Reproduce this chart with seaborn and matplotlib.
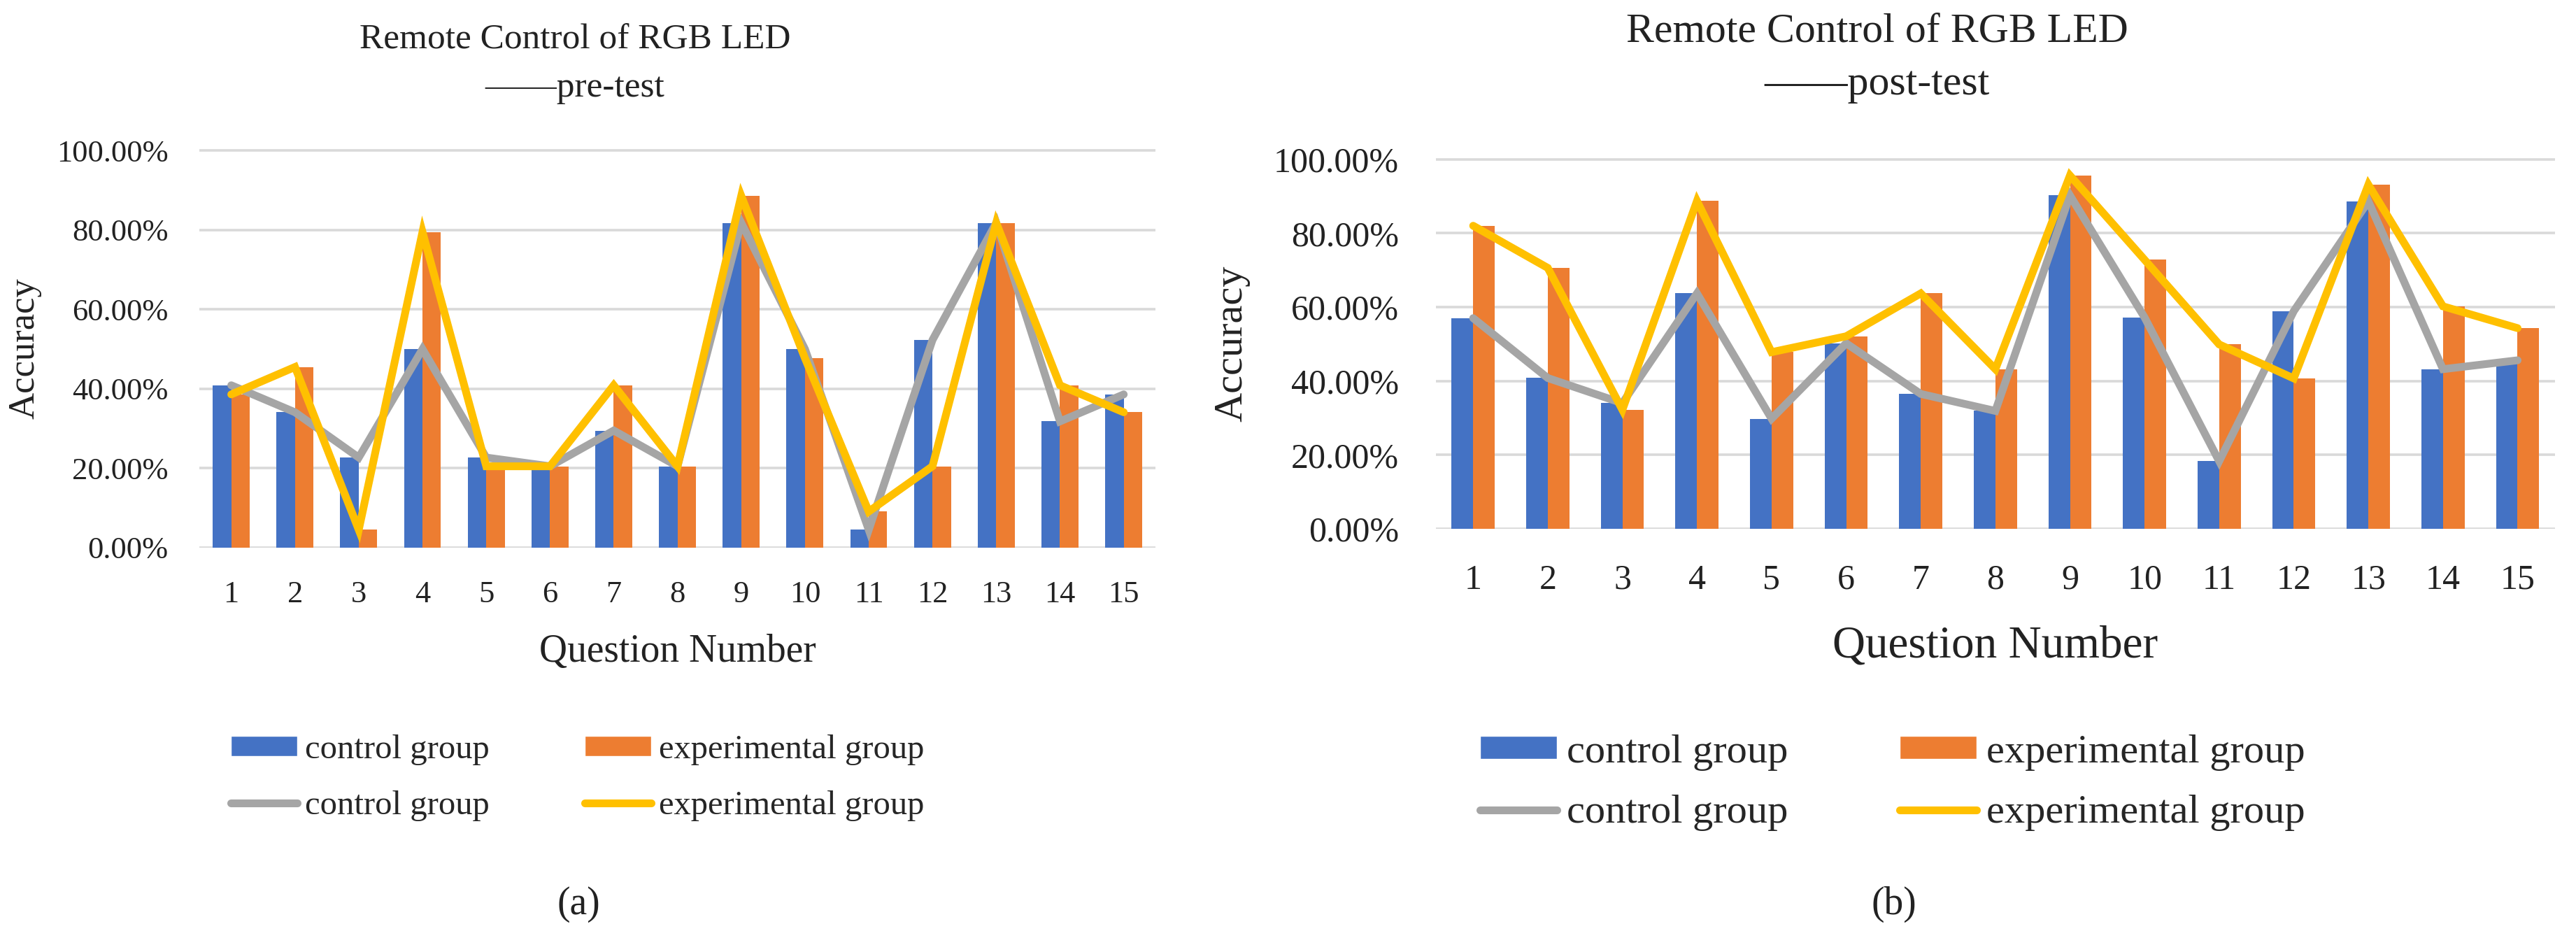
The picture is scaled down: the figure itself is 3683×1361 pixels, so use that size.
import numpy as np
import pandas as pd
import matplotlib
matplotlib.use("Agg")
import matplotlib.pyplot as plt
from matplotlib.patches import Patch
from matplotlib.lines import Line2D
from matplotlib.ticker import PercentFormatter
import seaborn as sns

sns.set_theme(style="white")
plt.rcParams['font.family'] = ['Liberation Serif', 'DejaVu Serif']

# data (share of correct answers)
questions = [str(i) for i in range(1, 16)]
groups = ["control group", "experimental group"]
pre_control = [0.409, 0.341, 0.227, 0.500, 0.227, 0.205, 0.295, 0.205, 0.818, 0.500, 0.045, 0.523, 0.818, 0.318, 0.386]
pre_experimental = [0.386, 0.455, 0.045, 0.795, 0.205, 0.205, 0.409, 0.205, 0.886, 0.477, 0.091, 0.205, 0.818, 0.409, 0.341]
post_control = [0.570, 0.408, 0.340, 0.637, 0.298, 0.502, 0.365, 0.319, 0.902, 0.572, 0.183, 0.589, 0.886, 0.432, 0.456]
post_experimental = [0.820, 0.706, 0.322, 0.887, 0.478, 0.521, 0.637, 0.432, 0.956, 0.728, 0.499, 0.407, 0.931, 0.602, 0.543]

bar_colors = ["#4472C4", "#ED7D31"]
line_colors = ["#A5A5A5", "#FFC000"]
grid_color = "#D9D9D9"


def long_df(control, experimental):
    return pd.DataFrame({
        "question": questions * 2,
        "group": [groups[0]] * 15 + [groups[1]] * 15,
        "accuracy": control + experimental,
    })


fig = plt.figure(figsize=(36.83, 13.61), dpi=100)

panels = [
    dict(rect=[0.0774, 0.4247, 0.3712, 0.4188], control=pre_control, exp=pre_experimental,
         title="Remote Control of RGB LED", sub="——pre-test", tx=822, ty1=70, ty2=138,
         fs_title=37, fs_tick=32, fs_label=40, fs_ylab=38, fs_leg=35, tickpad_y=32, tickpad_x=34,
         ylab_x=-0.165, xlab_y=-0.215,
         leg_x=330, leg_y=1112, leg_hl=1.95, leg_cs=2.8, leg_ls=0.75, leg_hh=0.56,
         panel="(a)", px=827, py=1293),
    dict(rect=[0.5574, 0.4445, 0.4344, 0.3898], control=post_control, exp=post_experimental,
         title="Remote Control of RGB LED", sub="——post-test", tx=2684, ty1=60, ty2=135,
         fs_title=43, fs_tick=36, fs_label=47, fs_ylab=42, fs_leg=42, tickpad_y=38, tickpad_x=36,
         ylab_x=-0.166, xlab_y=-0.26,
         leg_x=2116, leg_y=1119, leg_hl=1.89, leg_cs=2.74, leg_ls=0.6, leg_hh=0.5,
         panel="(b)", px=2708, py=1293),
]

W, H = 3683, 1361

for p in panels:
    ax = fig.add_axes(p["rect"])
    df = long_df(p["control"], p["exp"])

    sns.barplot(data=df, x="question", y="accuracy", hue="group", order=questions,
                hue_order=groups, palette=bar_colors, width=0.58, gap=0,
                errorbar=None, legend=False, saturation=1, linewidth=0,
                ax=ax, zorder=2)
    sns.pointplot(data=df, x="question", y="accuracy", hue="group", order=questions,
                  hue_order=groups, palette=line_colors, markers="", linestyles="-",
                  dodge=False, errorbar=None, legend=False, ax=ax, linewidth=8)
    for ln in ax.lines:
        ln.set_zorder(3)
        ln.set_solid_joinstyle("miter")

    ax.set_ylim(0, 1.004)
    ax.set_yticks(np.arange(0, 1.01, 0.2))
    ax.yaxis.set_major_formatter(PercentFormatter(1.0, decimals=2))
    ax.grid(axis="y", color=grid_color, linewidth=2.6)
    ax.set_axisbelow(True)
    for s in ax.spines.values():
        s.set_visible(False)
    ax.tick_params(axis="both", length=0, labelsize=p["fs_tick"], colors="#222222")
    ax.tick_params(axis="y", pad=p["tickpad_y"])
    ax.tick_params(axis="x", pad=p["tickpad_x"])

    ax.set_xlabel("Question Number", fontsize=p["fs_label"], color="#222222")
    ax.xaxis.set_label_coords(0.5, p["xlab_y"])
    ax.set_ylabel("Accuracy", fontsize=p["fs_ylab"], color="#222222")
    ax.yaxis.set_label_coords(p["ylab_x"], 0.5)

    fig.text(p["tx"] / W, 1 - p["ty1"] / H, p["title"], ha="center", va="baseline",
             fontsize=p["fs_title"], color="#222222")
    fig.text(p["tx"] / W, 1 - p["ty2"] / H, p["sub"], ha="center", va="baseline",
             fontsize=p["fs_title"], color="#222222")

    handles = [
        Patch(facecolor=bar_colors[0], label=groups[0]),
        Line2D([], [], color=line_colors[0], linewidth=8, label=groups[0]),
        Patch(facecolor=bar_colors[1], label=groups[1]),
        Line2D([], [], color=line_colors[1], linewidth=8, label=groups[1]),
    ]
    ax.legend(handles=handles, ncol=2, loc="center left",
              bbox_to_anchor=(p["leg_x"] / W, 1 - p["leg_y"] / H),
              bbox_transform=fig.transFigure, frameon=False, borderpad=0,
              fontsize=p["fs_leg"], handlelength=p["leg_hl"], handletextpad=0.23,
              columnspacing=p["leg_cs"], labelspacing=p["leg_ls"],
              handleheight=p["leg_hh"], borderaxespad=0)

    fig.text(p["px"] / W, 1 - p["py"] / H, p["panel"], ha="center", va="center",
             fontsize=40, color="#222222")

fig.savefig("out.png", dpi=100)
